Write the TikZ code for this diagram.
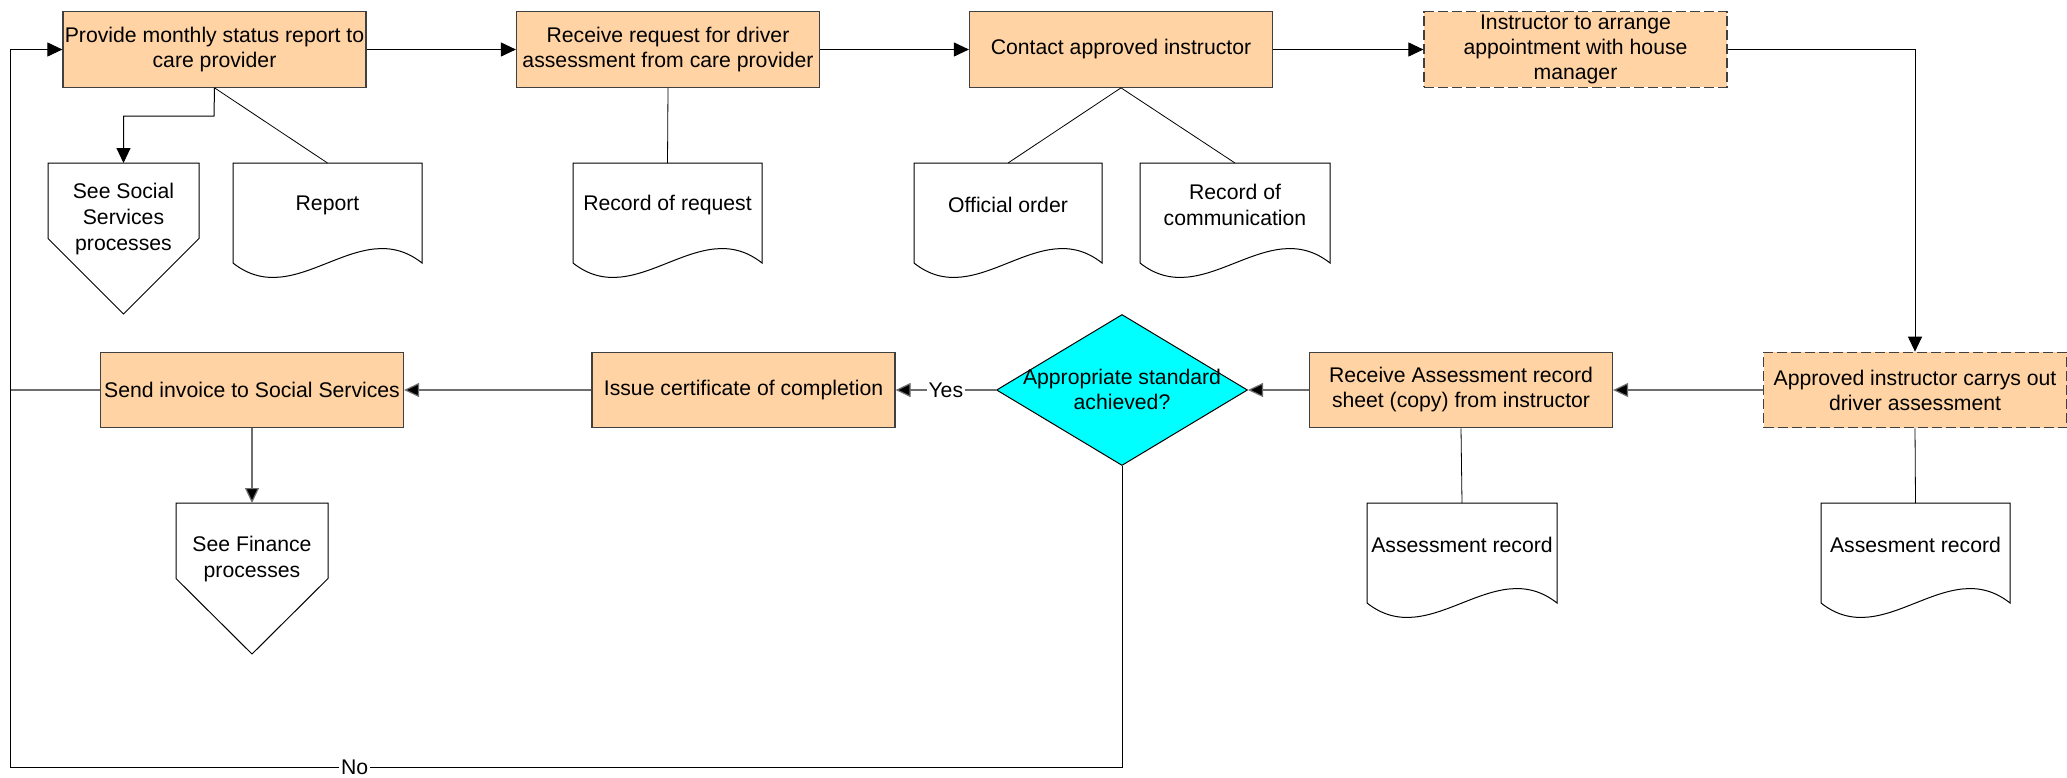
\documentclass[tikz,border=0pt]{standalone}
\usepackage{fontspec}
\setmainfont{Liberation Sans}
\usetikzlibrary{arrows.meta,shapes.geometric}
\definecolor{peach}{HTML}{FFD3A3}
\definecolor{boxline}{HTML}{404040}
\definecolor{gline}{HTML}{6E6E6E}
\definecolor{cyanfill}{HTML}{00FFFF}
\tikzset{
  procbox/.style={rectangle, draw=boxline, fill=peach, line width=0.6pt, inner sep=0pt,
    minimum width=151.5pt, minimum height=37.75pt, align=center, font=\fontsize{10.6}{12.5}\selectfont},
  dashbox/.style={procbox, dash pattern=on 5pt off 2pt},
  docline/.style={draw=black, line width=0.5pt, fill=white},
  doctext/.style={inner sep=0pt, align=center, font=\fontsize{10.6}{12.8}\selectfont},
  arr/.style={draw=black, line width=0.5pt, -{Triangle[length=7.5pt,width=7pt]}},
  garr/.style={draw=gline, line width=0.6pt, -{Triangle[length=7.5pt,width=7pt,fill=black]}},
  gplain/.style={draw=gline, line width=0.6pt},
  plain/.style={draw=black, line width=0.5pt},
  docconn/.style={draw=black, line width=0.4pt},
  lbl/.style={fill=white, inner sep=1pt, font=\fontsize{10.6}{12.5}\selectfont},
}
\newcommand{\docshape}[5]{%
  \draw[docline] (#2,#4) -- (#3,#4) -- (#3,#4+100) .. controls ({#3-(#3-#2)/3},#4+50) and ({#2+(#3-#2)/3},#4+150) .. (#2,#4+100) -- cycle;
  \coordinate (#1) at ({(#2+#3)/2},#4);
  \node[doctext] (#1t) at ({(#2+#3)/2},#4+42) {#5};
}
\newcommand{\offpageshape}[5]{%
  \draw[docline] (#2,#4) -- (#3,#4) -- (#3,#4+75.5) -- ({(#2+#3)/2},#4+151) -- (#2,#4+75.5) -- cycle;
  \coordinate (#1) at ({(#2+#3)/2},#4);
  \node[doctext] (#1t) at ({(#2+#3)/2},#4+56) {#5};
}
\begin{document}
\begin{tikzpicture}[x=0.5pt,y=-0.5pt]
\useasboundingbox (0,0) rectangle (2067,777);

% process boxes
\node[procbox] (b1) at (214.5,49.5) {Provide monthly status report to\\care provider};
\node[procbox] (b2) at (668,49.5) {Receive request for driver\\assessment from care provider};
\node[procbox] (b3) at (1121,49.5) {Contact approved instructor};
\node[dashbox] (b4) at (1575.5,49.5) {Instructor to arrange\\appointment with house\\manager};
\node[dashbox] (b5) at (1915,390) {Approved instructor carrys out\\driver assessment};
\node[procbox] (b7) at (1461,390) {Receive Assessment record\\sheet (copy) from instructor};
\node[diamond, draw=black, fill=cyanfill, line width=0.5pt, inner sep=0pt,
      minimum width=125.5pt, minimum height=75.5pt] (dec) at (1122,390) {};
\node[doctext, font=\fontsize{10.6}{12.5}\selectfont] (dect) at (1122,389.5) {Appropriate standard\\achieved?};
\node[procbox] (iss) at (743.5,390) {Issue certificate of completion};
\node[procbox] (b6) at (252,390) {Send invoice to Social Services};

% documents and off-page references
\offpageshape{soc}{48}{199}{163}{See Social\\Services\\processes}
\docshape{rep}{233}{422}{163}{Report}
\docshape{req}{573}{762}{163}{Record of request}
\docshape{off}{914}{1102}{163}{Official order}
\docshape{com}{1140}{1330}{163}{Record of\\communication}
\docshape{asr}{1367}{1557}{503}{Assessment record}
\docshape{asm}{1821}{2010}{503}{Assesment record}
\offpageshape{fin}{176}{328}{503}{See Finance\\processes}

% helper coordinates
\coordinate (sj) at (214,116);
\coordinate (loopc) at (10,767);

% top row flow
\draw[arr] (b1.east) -- (b2.west);
\draw[arr] (b2.east) -- (b3.west);
\draw[arr] (b3.east) -- (b4.west);
\draw[arr] (b4.east) -| (b5.north);
% bottom row flow
\draw[garr] (b5.west) -- (b7.east);
\draw[garr] (b7.west) -- (dec.east);
\draw[garr] (dec.west) -- node[lbl] {Yes} (iss.east);
\draw[garr] (iss.west) -- (b6.east);
\draw[gplain] (b6.west) -- (b6.west -| loopc);
\draw[garr] (b6.south) -- (fin);
% No loop
\draw[arr] (dec.south) |- node[lbl, pos=0.845] {No} (loopc) |- (b1.west);
% social services branch
\draw[arr] (b1.south) -- (sj) -| (soc);

% document links
\draw[docconn] (b1.south) -- (rep);
\draw[docconn] (b2.south) -- (req);
\draw[docconn] (b3.south) -- (off);
\draw[docconn] (b3.south) -- (com);
\draw[docconn] (b7.south) -- (asr);
\draw[docconn] (b5.south) -- (asm);
\end{tikzpicture}
\end{document}
